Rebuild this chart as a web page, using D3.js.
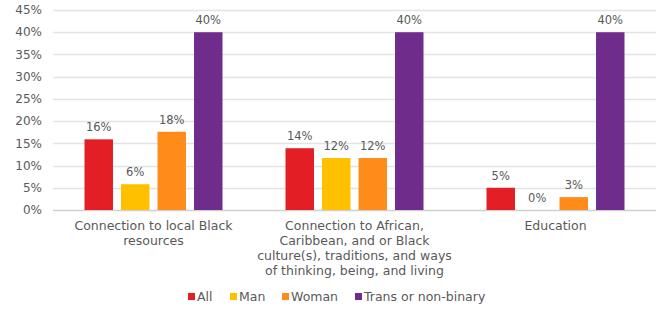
<!DOCTYPE html>
<html>
<head>
<meta charset="utf-8">
<script src="https://cdn.jsdelivr.net/npm/d3@7"></script>
<style>
  body { margin: 0; background: #fff; }
  svg text { font-family: "DejaVu Sans", "Open Sans", sans-serif; fill: #595959; }
</style>
</head>
<body>
<svg width="662" height="313"></svg>
<script>
const categories = [
  ['Connection to local Black', 'resources'],
  ['Connection to African,', 'Caribbean, and or Black', 'culture(s), traditions, and ways', 'of thinking, being, and living'],
  ['Education']
];
const seriesNames = ['All', 'Man', 'Woman', 'Trans or non-binary'];
const seriesColors = ['#e31e24', '#ffc000', '#ff8c1a', '#6f2c8a'];
// values per category, in series order (percent)
const allValues = [15.9, 13.9, 5.0];
const manValues = [5.8, 11.7, 0];
const womanValues = [17.6, 11.7, 2.9];
const transValues = [40, 40, 40];
const yTicks = [0, 5, 10, 15, 20, 25, 30, 35, 40, 45];

const series = [allValues, manValues, womanValues, transValues];

const svg = d3.select('svg');
const margin = {top: 10, right: 6, bottom: 103, left: 53};
const width = 662 - margin.left - margin.right;
const height = 313 - margin.top - margin.bottom;
const g = svg.append('g').attr('transform', `translate(${margin.left},${margin.top})`);

const clusterW = 138;
const x0 = d3.scaleBand().domain(d3.range(categories.length)).range([0, width]);
const x1 = d3.scaleBand().domain(d3.range(seriesNames.length)).range([0, clusterW]).paddingInner(0.22);
const y = d3.scaleLinear().domain([0, 45]).range([height, 0]);

// Gridlines
g.append('g')
  .selectAll('line')
  .data(yTicks).enter()
  .append('line')
  .attr('x1', 0).attr('x2', width)
  .attr('y1', d => Math.round(y(d)) + 0.5).attr('y2', d => Math.round(y(d)) + 0.5)
  .attr('stroke', d => d === 0 ? '#d0d0d0' : '#e3e3e3')
  .attr('stroke-width', 1.3);

// Y tick labels
g.append('g')
  .selectAll('text')
  .data(yTicks).enter()
  .append('text')
  .attr('x', -11)
  .attr('y', d => y(d))
  .attr('dy', '0.35em')
  .attr('text-anchor', 'end')
  .style('font-size', '12px')
  .text(d => d + '%');

// Bars
const groups = g.append('g')
  .selectAll('g')
  .data(categories).enter()
  .append('g')
  .attr('transform', (d, i) => `translate(${x0(i) + (x0.bandwidth() - clusterW) / 2},0)`);

groups.each(function (cat, ci) {
  const grp = d3.select(this);
  const vals = series.map(s => s[ci]);
  grp.selectAll('rect')
    .data(vals).enter()
    .append('rect')
    .attr('x', (d, si) => x1(si))
    .attr('y', d => y(d))
    .attr('width', x1.bandwidth())
    .attr('height', d => height - y(d))
    .attr('fill', (d, si) => seriesColors[si]);
  grp.selectAll('text.val')
    .data(vals).enter()
    .append('text')
    .attr('class', 'val')
    .attr('x', (d, si) => x1(si) + x1.bandwidth() / 2)
    .attr('y', d => y(d) - 8)
    .attr('text-anchor', 'middle')
    .style('font-size', '11.5px')
    .text(d => Math.round(d) + '%');
});

// Category labels
g.append('g')
  .selectAll('text')
  .data(categories).enter()
  .append('text')
  .attr('x', (d, i) => x0(i) + x0.bandwidth() / 2)
  .attr('y', height + 20)
  .attr('text-anchor', 'middle')
  .style('font-size', '12.5px')
  .each(function (lines) {
    d3.select(this).selectAll('tspan')
      .data(lines).enter()
      .append('tspan')
      .attr('x', d3.select(this).attr('x'))
      .attr('dy', (d, i) => i === 0 ? 0 : 15)
      .text(d => d);
  });

// Legend
const legendX = [188, 230, 282, 355];
const legend = svg.append('g')
  .selectAll('g')
  .data(seriesNames).enter()
  .append('g')
  .attr('transform', (d, i) => `translate(${legendX[i]},297)`);
legend.append('rect')
  .attr('x', 0).attr('y', -4)
  .attr('width', 7).attr('height', 7)
  .attr('fill', (d, i) => seriesColors[i]);
legend.append('text')
  .attr('x', 9).attr('y', 0)
  .attr('dy', '0.35em')
  .style('font-size', '12.5px')
  .text(d => d);
</script>
</body>
</html>
